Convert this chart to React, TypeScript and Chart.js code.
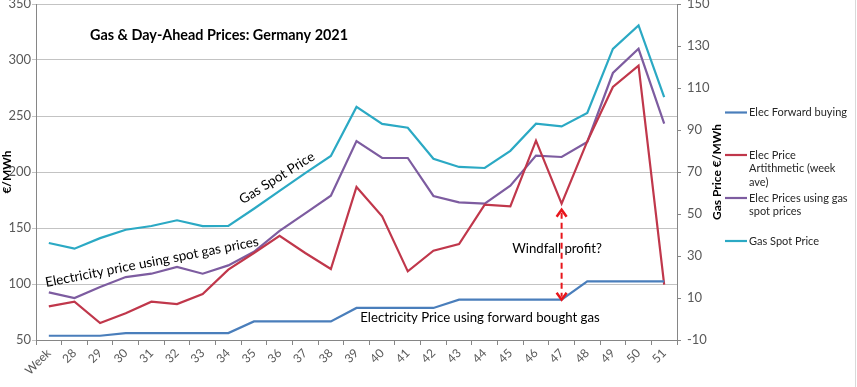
import React, { useEffect, useRef } from "react";
import { Chart, registerables } from "chart.js";
Chart.register(...registerables);

const weeks = ["Week", "28", "29", "30", "31", "32", "33", "34", "35", "36", "37", "38", "39", "40", "41", "42", "43", "44", "45", "46", "47", "48", "49", "50", "51"];
const elecForward = [53.8, 53.8, 53.8, 56.2, 56.2, 56.2, 56.2, 56.2, 66.6, 66.6, 66.6, 66.6, 78.6, 78.6, 78.6, 78.6, 86, 86, 86, 86, 86, 102.3, 102.3, 102.3, 102.3];
const elecArith = [80, 84.2, 65.2, 73.8, 84.2, 82.1, 91, 112.8, 127.7, 143.1, 127.7, 113.4, 186.6, 160.4, 111.3, 129.7, 135.7, 170.8, 169.3, 228, 171.7, 227.3, 275.9, 294.9, 99.4];
const elecSpotGas = [92.5, 87.5, 97.3, 106.2, 109.2, 115.2, 109.2, 116.6, 128.8, 147.5, 163, 178.8, 227.6, 212.5, 212.5, 178.6, 172.9, 171.7, 187.8, 214.6, 213.4, 226.8, 288.4, 310, 243.1];
const gasSpot = [36.2, 33.5, 38.5, 42.5, 44.3, 47, 44.2, 44.3, 52.5, 61, 69.5, 77.6, 101, 92.9, 91.1, 76.3, 72.4, 71.9, 80.1, 93, 91.7, 98.1, 128.6, 139.8, 105.7];

const seriesNames = ["Elec Forward buying", "Elec Price Artithmetic (week ave)", "Elec Prices using gas spot prices", "Gas Spot Price"];
const legendLines = [["Elec Forward buying"], ["Elec Price", "Artithmetic (week", "ave)"], ["Elec Prices using gas", "spot prices"], ["Gas Spot Price"]];
const colors = ["#4A7EBB", "#C0374B", "#7D5CA0", "#2BA9C4"];
const windfallIndex = 20;

const FONT = "Lato, 'Open Sans', sans-serif";

const annotPlugin = {
  id: "annot",
  afterDraw(chart: any) {
    const ctx = chart.ctx;
    const xs = chart.scales.x;
    const yl = chart.scales.y;
    const ca = chart.chartArea;
    ctx.save();
    // outer border on right
    ctx.strokeStyle = "#d9d9d9";
    ctx.lineWidth = 1;
    ctx.beginPath();
    ctx.moveTo(855.5, 0);
    ctx.lineTo(855.5, 387);
    ctx.stroke();

    // right axis title (reads bottom to top)
    ctx.fillStyle = "#000";
    ctx.textBaseline = "middle";
    ctx.textAlign = "center";
    ctx.font = `bold 12px ${FONT}`;
    ctx.save();
    ctx.translate(717, (ca.top + ca.bottom) / 2);
    ctx.rotate(-Math.PI / 2);
    ctx.fillText("Gas Price €/MWh", 0, 0);
    ctx.restore();

    ctx.textAlign = "left";
    ctx.font = `bold 14.4px ${FONT}`;
    ctx.fillText("Gas & Day-Ahead Prices: Germany 2021", 90, 35);

    ctx.font = `13.5px ${FONT}`;
    ctx.textAlign = "center";
    ctx.save();
    ctx.translate(277, 178);
    ctx.rotate((-32 * Math.PI) / 180);
    ctx.fillText("Gas Spot Price", 0, 0);
    ctx.restore();

    ctx.save();
    ctx.translate(152, 262);
    ctx.rotate((-11 * Math.PI) / 180);
    ctx.fillText("Electricity price using spot gas prices", 0, 0);
    ctx.restore();

    ctx.font = `13.2px ${FONT}`;
    ctx.fillText("Windfall profit?", 557, 249);
    ctx.fillText("Electricity Price using forward bought gas", 480, 318);

    // windfall arrow
    const ax = xs.getPixelForValue(windfallIndex);
    const yTop = yl.getPixelForValue(elecArith[windfallIndex]) + 6;
    const yBot = yl.getPixelForValue(elecForward[windfallIndex]);
    ctx.strokeStyle = "#E8161C";
    ctx.lineWidth = 2;
    ctx.setLineDash([6, 4]);
    ctx.beginPath();
    ctx.moveTo(ax, yTop + 3);
    ctx.lineTo(ax, yBot - 3);
    ctx.stroke();
    ctx.setLineDash([]);
    ctx.lineWidth = 2.5;
    ctx.beginPath();
    ctx.moveTo(ax - 5, yTop + 7);
    ctx.lineTo(ax, yTop);
    ctx.lineTo(ax + 5, yTop + 7);
    ctx.moveTo(ax - 5, yBot - 7);
    ctx.lineTo(ax, yBot);
    ctx.lineTo(ax + 5, yBot - 7);
    ctx.stroke();

    // legend
    const legendY = [112.5, 155, 198, 241];
    ctx.font = `11px ${FONT}`;
    ctx.textAlign = "left";
    ctx.fillStyle = "#262626";
    legendLines.forEach((lines, i) => {
      ctx.strokeStyle = colors[i];
      ctx.lineWidth = 2.2;
      ctx.beginPath();
      ctx.moveTo(725, legendY[i]);
      ctx.lineTo(747, legendY[i]);
      ctx.stroke();
      lines.forEach((t, j) => ctx.fillText(t, 749, legendY[i] + j * 13.5));
    });
    ctx.restore();
  },
};

export default function App() {
  const ref = useRef<HTMLCanvasElement>(null);
  useEffect(() => {
    document.body.style.margin = "0";
    const data = [elecForward, elecArith, elecSpotGas, gasSpot];
    const chart = new Chart(ref.current!, {
      type: "line",
      data: {
        labels: weeks,
        datasets: data.map((d, i) => ({
          label: seriesNames[i],
          data: d,
          borderColor: colors[i],
          backgroundColor: colors[i],
          borderWidth: 2.2,
          pointRadius: 0,
          tension: 0,
          yAxisID: i === 3 ? "y1" : "y",
        })),
      },
      options: {
        animation: false,
        responsive: true,
        maintainAspectRatio: false,
        layout: { padding: { top: 4, right: 132, left: 0, bottom: 0 } },
        plugins: { legend: { display: false }, tooltip: { enabled: false } },
        scales: {
          x: {
            offset: true,
            grid: { offset: true, drawOnChartArea: false, drawTicks: true, tickLength: 5, color: "#868686" },
            border: { color: "#868686" },
            ticks: { minRotation: 45, maxRotation: 45, autoSkip: false, color: "#595959", font: { family: FONT, size: 12 }, padding: 1 },
            afterFit: (s: any) => {
              s.height = 47;
              s.paddingLeft = 0;
              s.paddingRight = 0;
            },
          },
          y: {
            position: "left",
            min: 50,
            max: 350,
            ticks: { stepSize: 50, color: "#595959", font: { family: FONT, size: 13 }, padding: 1 },
            grid: { color: "#c3c3c3", tickLength: 4 },
            border: { color: "#868686" },
            title: { display: true, text: "€/MWh", color: "#000", font: { family: FONT, size: 12, weight: "bold" }, padding: 0 },
            afterFit: (s: any) => {
              s.width = 36;
              s.paddingTop = 0;
              s.paddingBottom = 0;
            },
          },
          y1: {
            position: "right",
            min: -10,
            max: 150,
            ticks: { stepSize: 20, color: "#595959", font: { family: FONT, size: 13 }, padding: 6 },
            grid: { drawOnChartArea: false, tickLength: 4, color: "#868686" },
            border: { color: "#868686" },
            title: { display: false },
            afterFit: (s: any) => {
              s.width = 48;
              s.paddingTop = 0;
              s.paddingBottom = 0;
            },
          },
        },
      },
      plugins: [annotPlugin],
    });
    return () => chart.destroy();
  }, []);
  return (
    <div style={{ position: "absolute", left: 0, top: 0, width: 857, height: 387, background: "#fff" }}>
      <canvas ref={ref} />
    </div>
  );
}
